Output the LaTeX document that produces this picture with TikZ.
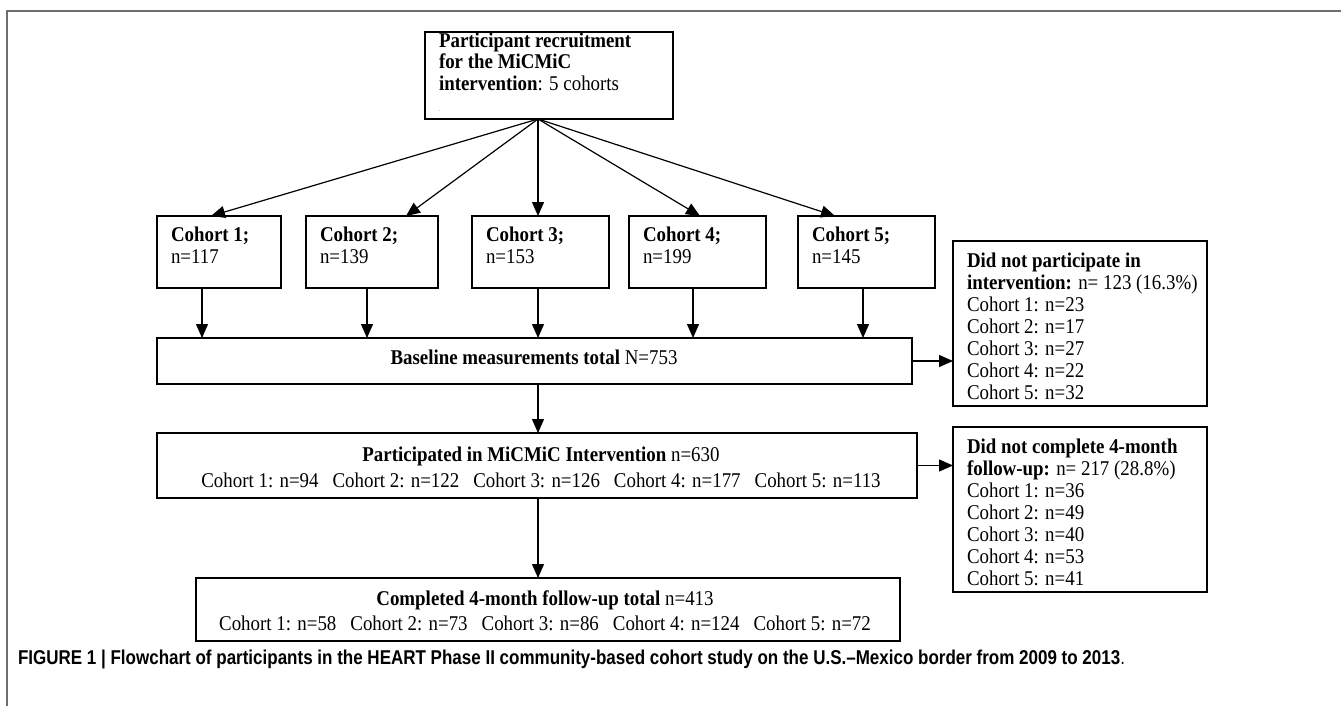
\documentclass[tikz,border=0pt]{standalone}
\usepackage{fontspec}
\usepackage{graphicx}
\setmainfont{Liberation Serif}[FakeStretch=0.9]
\newfontfamily\capfont{Liberation Sans}
\usetikzlibrary{arrows.meta,calc}
\definecolor{framegray}{RGB}{110,110,110}
\begin{document}
\begin{tikzpicture}[x=1pt,y=-1pt,
  box/.style={draw, line width=1.2pt, inner sep=0pt, outer sep=0pt, anchor=north west},
  arr/.style={line width=1.2pt, -{Triangle[length=14pt,width=12pt]}},
  txt/.style={inner sep=0pt, outer sep=0pt, font=\fontsize{21}{22}\selectfont, align=left, anchor=base west},
  ctxt/.style={inner sep=0pt, outer sep=0pt, font=\fontsize{21}{26}\selectfont, align=center, anchor=base},
  frame/.style={draw=framegray, line width=2pt}
]
\useasboundingbox (0,0) rectangle (1341,706);
\draw[frame] (7,706) -- (7,11) -- (1341,11);

% top box (text nodes are placed by the baseline of their last line)
\node[box, minimum width=248pt, minimum height=87pt] (top) at (425,32) {};
\node[txt, font=\fontsize{21}{21.5}\selectfont] (toptxt) at (439,112) {\textbf{Participant recruitment}\\\textbf{for the MiCMiC}\\\textbf{intervention}: 5 cohorts\\{\fontsize{5}{6}\selectfont .}};

% cohort boxes
\node[box, minimum width=124pt, minimum height=72pt] (c1) at (157,216) {};
\node[box, minimum width=132pt, minimum height=72pt] (c2) at (306,216) {};
\node[box, minimum width=137pt, minimum height=72pt] (c3) at (472,216) {};
\node[box, minimum width=137pt, minimum height=72pt] (c4) at (629,216) {};
\node[box, minimum width=137pt, minimum height=72pt] (c5) at (798,216) {};
\node[txt] (t1) at (171,263) {\textbf{Cohort 1;}\\n=117};
\node[txt] (t2) at (320,263) {\textbf{Cohort 2;}\\n=139};
\node[txt] (t3) at (486,263) {\textbf{Cohort 3;}\\n=153};
\node[txt] (t4) at (643,263) {\textbf{Cohort 4;}\\n=199};
\node[txt] (t5) at (812,263) {\textbf{Cohort 5;}\\n=145};

% baseline
\node[box, minimum width=755pt, minimum height=46pt] (base) at (157,338) {};
\node[ctxt] (basetxt) at (534,364) {\textbf{Baseline measurements total} N=753};

% did not participate
\node[box, minimum width=254pt, minimum height=165pt] (dnp) at (953,241) {};
\node[txt] (dnptxt) at (967,399) {\textbf{Did not participate in}\\\textbf{intervention:} n= 123 (16.3\%)\\Cohort 1: n=23\\Cohort 2: n=17\\Cohort 3: n=27\\Cohort 4: n=22\\Cohort 5: n=32};

% participated
\node[box, minimum width=760pt, minimum height=65pt] (part) at (157,433) {};
\node[ctxt] (parttxt) at (541,487) {\textbf{Participated in MiCMiC Intervention} n=630\\Cohort 1: n=94\hspace{14pt}Cohort 2: n=122\hspace{14pt}Cohort 3: n=126\hspace{14pt}Cohort 4: n=177\hspace{14pt}Cohort 5: n=113};

% did not complete
\node[box, minimum width=254pt, minimum height=165pt] (dnc) at (953,427) {};
\node[txt] (dnctxt) at (967,585) {\textbf{Did not complete 4-month}\\\textbf{follow-up:} n= 217 (28.8\%)\\Cohort 1: n=36\\Cohort 2: n=49\\Cohort 3: n=40\\Cohort 4: n=53\\Cohort 5: n=41};

% completed
\node[box, minimum width=704pt, minimum height=63pt] (comp) at (196,578) {};
\node[ctxt, font=\fontsize{21}{25}\selectfont] (comptxt) at (545,630) {\textbf{Completed 4-month follow-up total} n=413\\Cohort 1: n=58\hspace{14pt}Cohort 2: n=73\hspace{14pt}Cohort 3: n=86\hspace{14pt}Cohort 4: n=124\hspace{14pt}Cohort 5: n=72};

% fan arrows
\coordinate (apex) at (538,119);
\draw[arr] (apex) -- ($(c1.north west)+(54,0)$);
\draw[arr] (apex) -- ($(c2.north west)+(100,0)$);
\draw[arr] (apex) -- ($(c3.north west)+(66,0)$);
\draw[arr] (apex) -- ($(c4.north west)+(71,0)$);
\draw[arr] (apex) -- ($(c5.north west)+(37,0)$);

% cohort to baseline
\draw[arr] ($(c1.south west)+(45,0)$) coordinate (d1) -- (d1 |- base.north);
\draw[arr] ($(c2.south west)+(61,0)$) coordinate (d2) -- (d2 |- base.north);
\draw[arr] ($(c3.south west)+(66,0)$) coordinate (d3) -- (d3 |- base.north);
\draw[arr] ($(c4.south west)+(64,0)$) coordinate (d4) -- (d4 |- base.north);
\draw[arr] ($(c5.south west)+(65,0)$) coordinate (d5) -- (d5 |- base.north);

% main flow
\draw[arr] (base.south -| apex) -- (part.north -| apex);
\draw[arr] (part.south -| apex) -- (comp.north -| apex);
\draw[arr] (base.east) -- (dnp.west |- base.east);
\draw[arr] (part.east) -- (dnc.west |- part.east);

% caption
\node[anchor=base west, inner sep=0pt, outer sep=0pt] (cap) at (18,664) {\resizebox{1107pt}{\height}{\capfont\fontsize{20}{22}\selectfont\bfseries FIGURE 1 | Flowchart of participants in the HEART Phase II community-based cohort study on the U.S.–Mexico border from 2009 to 2013\mdseries.}};
\end{tikzpicture}
\end{document}
